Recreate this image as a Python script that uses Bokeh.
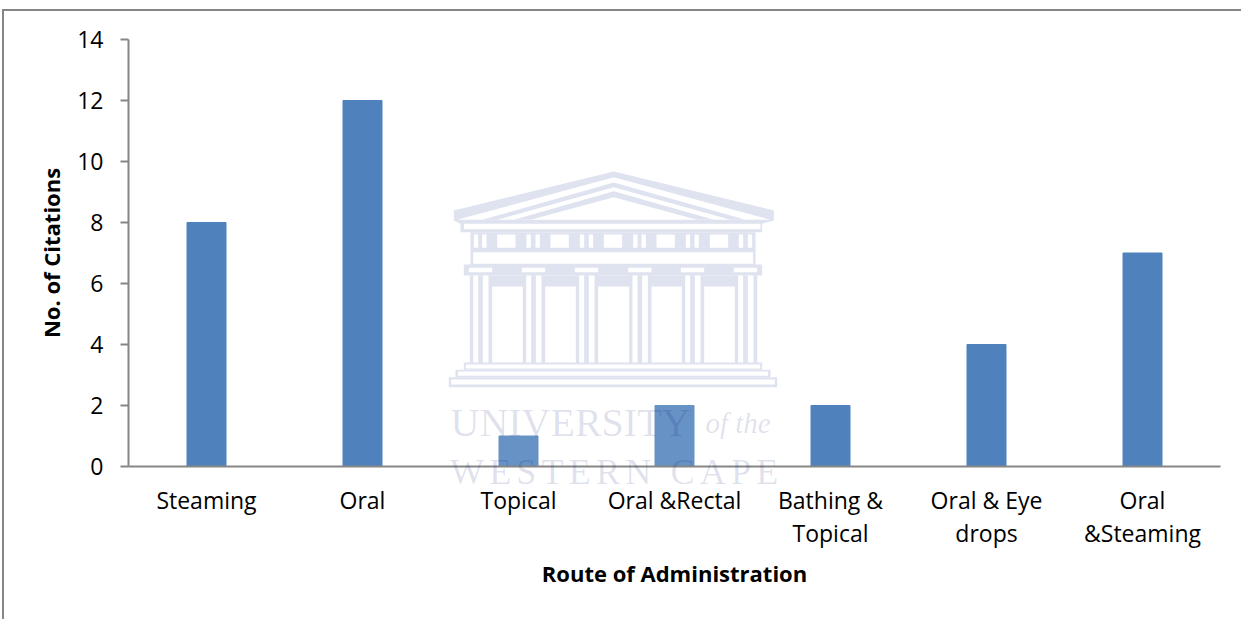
from bokeh.plotting import figure
from bokeh.embed import file_html
from bokeh.resources import INLINE
from bokeh.models import Range1d, FixedTicker, Label

categories = ["Steaming", "Oral", "Topical", "Oral &Rectal", "Bathing &\nTopical", "Oral & Eye\ndrops", "Oral\n&Steaming"]
citations = [8, 12, 1, 2, 2, 4, 7]
y_ticks = [0, 2, 4, 6, 8, 10, 12, 14]
x_title = "Route of Administration"
y_title = "No. of Citations"

FONT = "Open Sans"
GRAY = "#868686"
BAR = "#4f81bd"
WM = "#dfe2ef"

positions = [i + 0.5 for i in range(len(categories))]

p = figure(width=1237, height=608, x_range=Range1d(0, len(categories)),
           y_range=Range1d(0, 14), output_backend="svg", toolbar_location=None,
           min_border_left=124, min_border_right=21, min_border_top=28, min_border_bottom=153,
           background_fill_color="white", border_fill_color="white", outline_line_color=None)
p.grid.visible = False

p.vbar(x=positions, top=citations, width=0.25, color=BAR)

ax = p.xaxis[0]
ax.ticker = FixedTicker(ticks=positions)
ax.major_label_overrides = dict(zip(positions, categories))
ax.axis_line_color = GRAY
ax.axis_line_width = 2
ax.major_tick_line_color = None
ax.minor_tick_line_color = None
ax.major_label_text_font = FONT
ax.major_label_text_font_size = "23px"
ax.major_label_text_color = "black"
ax.major_label_text_line_height = 1.05
ax.major_label_standoff = 11
ax.axis_label = x_title
ax.axis_label_text_font = FONT
ax.axis_label_text_font_style = "bold"
ax.axis_label_text_font_size = "22px"
ax.axis_label_text_color = "black"
ax.axis_label_standoff = 6

ay = p.yaxis[0]
ay.ticker = FixedTicker(ticks=y_ticks)
ay.axis_line_color = GRAY
ay.axis_line_width = 2
ay.major_tick_line_color = GRAY
ay.major_tick_line_width = 2
ay.major_tick_in = 0
ay.major_tick_out = 8
ay.minor_tick_line_color = None
ay.major_label_text_font = FONT
ay.major_label_text_font_size = "23px"
ay.major_label_text_color = "black"
ay.major_label_standoff = 17
ay.axis_label = y_title
ay.axis_label_text_font = FONT
ay.axis_label_text_font_style = "bold"
ay.axis_label_text_font_size = "22px"
ay.axis_label_text_color = "black"
ay.axis_label_standoff = 8

# pixel-aligned ranges for the decorative watermark
p.extra_x_ranges = {"px": Range1d(128, 1220)}
p.extra_y_ranges = {"px": Range1d(466, 39)}

def zx(v):
    return 440 + v / 3

def zy(v):
    return 160 + v / 3

def poly(points, color=WM):
    return p.patch([zx(a) for a, _ in points], [zy(b) for _, b in points], color=color, line_color=None,
                   x_range_name="px", y_range_name="px")

def rect(x0, y0, x1, y1, color=WM):
    return poly([(x0, y0), (x1, y0), (x1, y1), (x0, y1)], color)

def tri(apex, half, base=178, color=WM):
    poly([(520, apex), (520 + half, base), (520 - half, base)], color)

# roof
poly([(40, 150), (520, 33), (1000, 150), (1000, 180), (965, 190), (965, 215), (60, 215), (60, 190), (40, 180)])
tri(50, 470, color="white")
tri(66, 395)
tri(80, 350, color="white")
tri(92, 300)
tri(110, 250, color="white")
rect(70, 190, 960, 206, "white")
# frieze
rect(90, 215, 945, 315)
for c in [170, 330, 490, 648, 808]:
    rect(c, 222, c + 55, 262, "white")
for c in [100, 125, 258, 285, 418, 445, 578, 603, 736, 762, 895, 922]:
    rect(c, 222, c + 13, 262, "white")
rect(98, 275, 938, 310, "white")
# capitals
rect(70, 312, 965, 345)
rect(150, 345, 885, 378)
for c in [120, 279, 438, 598, 756, 915]:
    rect(c - 35, 322, c + 35, 335, "white")
    rect(c - 32, 345, c + 35, 610)
    rect(c - 22, 345, c - 7, 610, "white")
    rect(c + 7, 345, c + 24, 610, "white")
# steps
rect(70, 606, 965, 628)
rect(76, 612, 959, 624, "white")
rect(45, 628, 990, 650)
rect(52, 633, 983, 646, "white")
rect(25, 650, 1010, 680)
rect(32, 657, 1003, 672, "white")
# pale veil over the bars inside the watermark area
veil = rect(25, 680, 1010, 920, "white")
veil.glyph.fill_alpha = 0.14

for txt, x, y, size, style in [
    ("UNIVERSITY", 450, 437, "40px", "normal"),
    ("of the", 705, 437, "29px", "italic"),
]:
    p.add_layout(Label(x=x - 128, y=481 - y, x_units="screen", y_units="screen", text=txt, text_font="Liberation Serif",
                       text_font_size=size, text_font_style=style, text_color="#00116e", text_alpha=0.13,
                       text_baseline="alphabetic", text_align="left", level="overlay"))

# the page frame lines on the left and top are the body's own borders;
# the watermark's last line crosses the plot frame, which clips labels, so it sits on the page itself
cape = ('<div style="position:absolute;left:450px;top:454px;z-index:10;pointer-events:none;white-space:nowrap;'
        "font:36px/36px 'Liberation Serif';letter-spacing:5.2px;color:rgba(0,17,110,0.13)\">WESTERN CAPE</div>")
html = file_html(p, INLINE).replace(
    "<body>",
    f'<body style="margin:9px 0 0 2px;border-left:2px solid {GRAY};border-top:2px solid {GRAY}">'
).replace("</body>", cape + "</body>")
open("out.html", "w").write(html)
